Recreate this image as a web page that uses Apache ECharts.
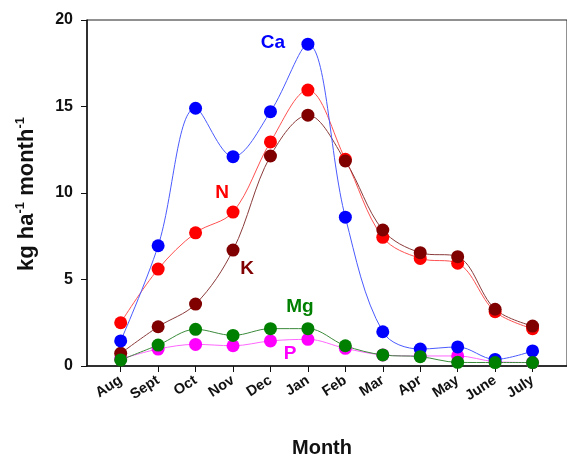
<!DOCTYPE html>
<html><head><meta charset="utf-8">
<script src="https://cdn.jsdelivr.net/npm/echarts@6/dist/echarts.min.js"></script>
<style>html,body{margin:0;padding:0;background:#fff}#c{width:567px;height:461px}</style>
</head><body><div id="c"></div>
<script>
var months = ['Aug','Sept','Oct','Nov','Dec','Jan','Feb','Mar','Apr','May','June','July'];
var yTicks = [0,5,10,15,20];
var Ca = [1.45,6.95,14.9,12.1,14.7,18.6,8.6,1.98,0.98,1.1,0.38,0.87];
var N  = [2.5,5.6,7.7,8.9,12.95,15.95,11.95,7.44,6.22,5.94,3.14,2.16];
var K  = [0.73,2.27,3.58,6.7,12.14,14.5,11.85,7.86,6.55,6.32,3.28,2.31];
var Mg = [0.35,1.21,2.12,1.77,2.16,2.16,1.17,0.64,0.54,0.21,0.2,0.2];
var P  = [0.4,0.98,1.25,1.17,1.45,1.54,1.02,0.64,0.58,0.58,0.25,0.2];

var FONT = 'Liberation Sans, Arial, sans-serif';
function mk(name, data, color, lineColor){
  return {
    name: name, type: 'line', smooth: 0.35,
    data: data.map(function(v,i){return [i,v];}),
    symbol: 'circle', symbolSize: 13,
    itemStyle: {color: color},
    lineStyle: {color: lineColor, width: 1},
    emphasis: {disabled: true}
  };
}
var idx = months.map(function(m,i){return i;});
var chart = echarts.init(document.getElementById('c'));
chart.setOption({
  animation: false,
  grid: {left: 87, top: 20, right: -2, bottom: 95, show: true, borderColor: '#222', borderWidth: 1},
  xAxis: {
    type: 'value', min: -0.9, max: 11.92,
    splitLine: {show: false},
    axisLine: {onZero: false, lineStyle: {color: '#111', width: 1.5}},
    axisTick: {customValues: idx, length: 6, lineStyle: {color: '#111'}},
    axisLabel: {customValues: idx,
      formatter: function(v){return months[Math.round(v)];},
      rotate: 33, fontWeight: 'bold', fontSize: 14.5, color: '#111', fontFamily: FONT, margin: 13}
  },
  yAxis: {
    type: 'value', min: yTicks[0], max: yTicks[yTicks.length-1], interval: 5,
    splitLine: {show: false},
    axisLine: {show: true, onZero: false, lineStyle: {color: '#111', width: 1.5}},
    axisTick: {show: true, length: 6, lineStyle: {color: '#111'}},
    axisLabel: {fontWeight: 'bold', fontSize: 16, color: '#111', fontFamily: FONT, margin: 14}
  },
  series: [
    mk('P', P, '#ff00ff', '#ff66ff'),
    mk('N', N, '#ff0000', '#ff5050'),
    mk('K', K, '#800000', '#8a3a3a'),
    mk('Ca', Ca, '#0000ff', '#4a5aff'),
    mk('Mg', Mg, '#008000', '#3a8a3a')
  ],
  graphic: [
    {type:'text', x:273, y:43, style:{text:'Ca', fill:'#0000ff', font:'bold 19px '+FONT, textAlign:'center', textVerticalAlign:'middle'}},
    {type:'text', x:222, y:193, style:{text:'N', fill:'#ff0000', font:'bold 19px '+FONT, textAlign:'center', textVerticalAlign:'middle'}},
    {type:'text', x:247, y:269, style:{text:'K', fill:'#800000', font:'bold 19px '+FONT, textAlign:'center', textVerticalAlign:'middle'}},
    {type:'text', x:300, y:307, style:{text:'Mg', fill:'#008000', font:'bold 19px '+FONT, textAlign:'center', textVerticalAlign:'middle'}},
    {type:'text', x:290, y:354, style:{text:'P', fill:'#ff00ff', font:'bold 19px '+FONT, textAlign:'center', textVerticalAlign:'middle'}},
    {type:'text', x:322, y:448, style:{text:'Month', fill:'#111', font:'bold 20px '+FONT, textAlign:'center', textVerticalAlign:'middle'}},
    {type:'text', x:27, y:194, rotation: Math.PI/2,
      style:{text:'{b|kg ha}{s|-1}{b| month}{s|-1}', textAlign:'center', textVerticalAlign:'middle',
        rich:{b:{font:'bold 22px '+FONT, fill:'#111', lineHeight:27}, s:{font:'bold 13px '+FONT, fill:'#111', verticalAlign:'top', lineHeight:27, padding:[0,0,11,0]}}}}
  ]
});
</script></body></html>
